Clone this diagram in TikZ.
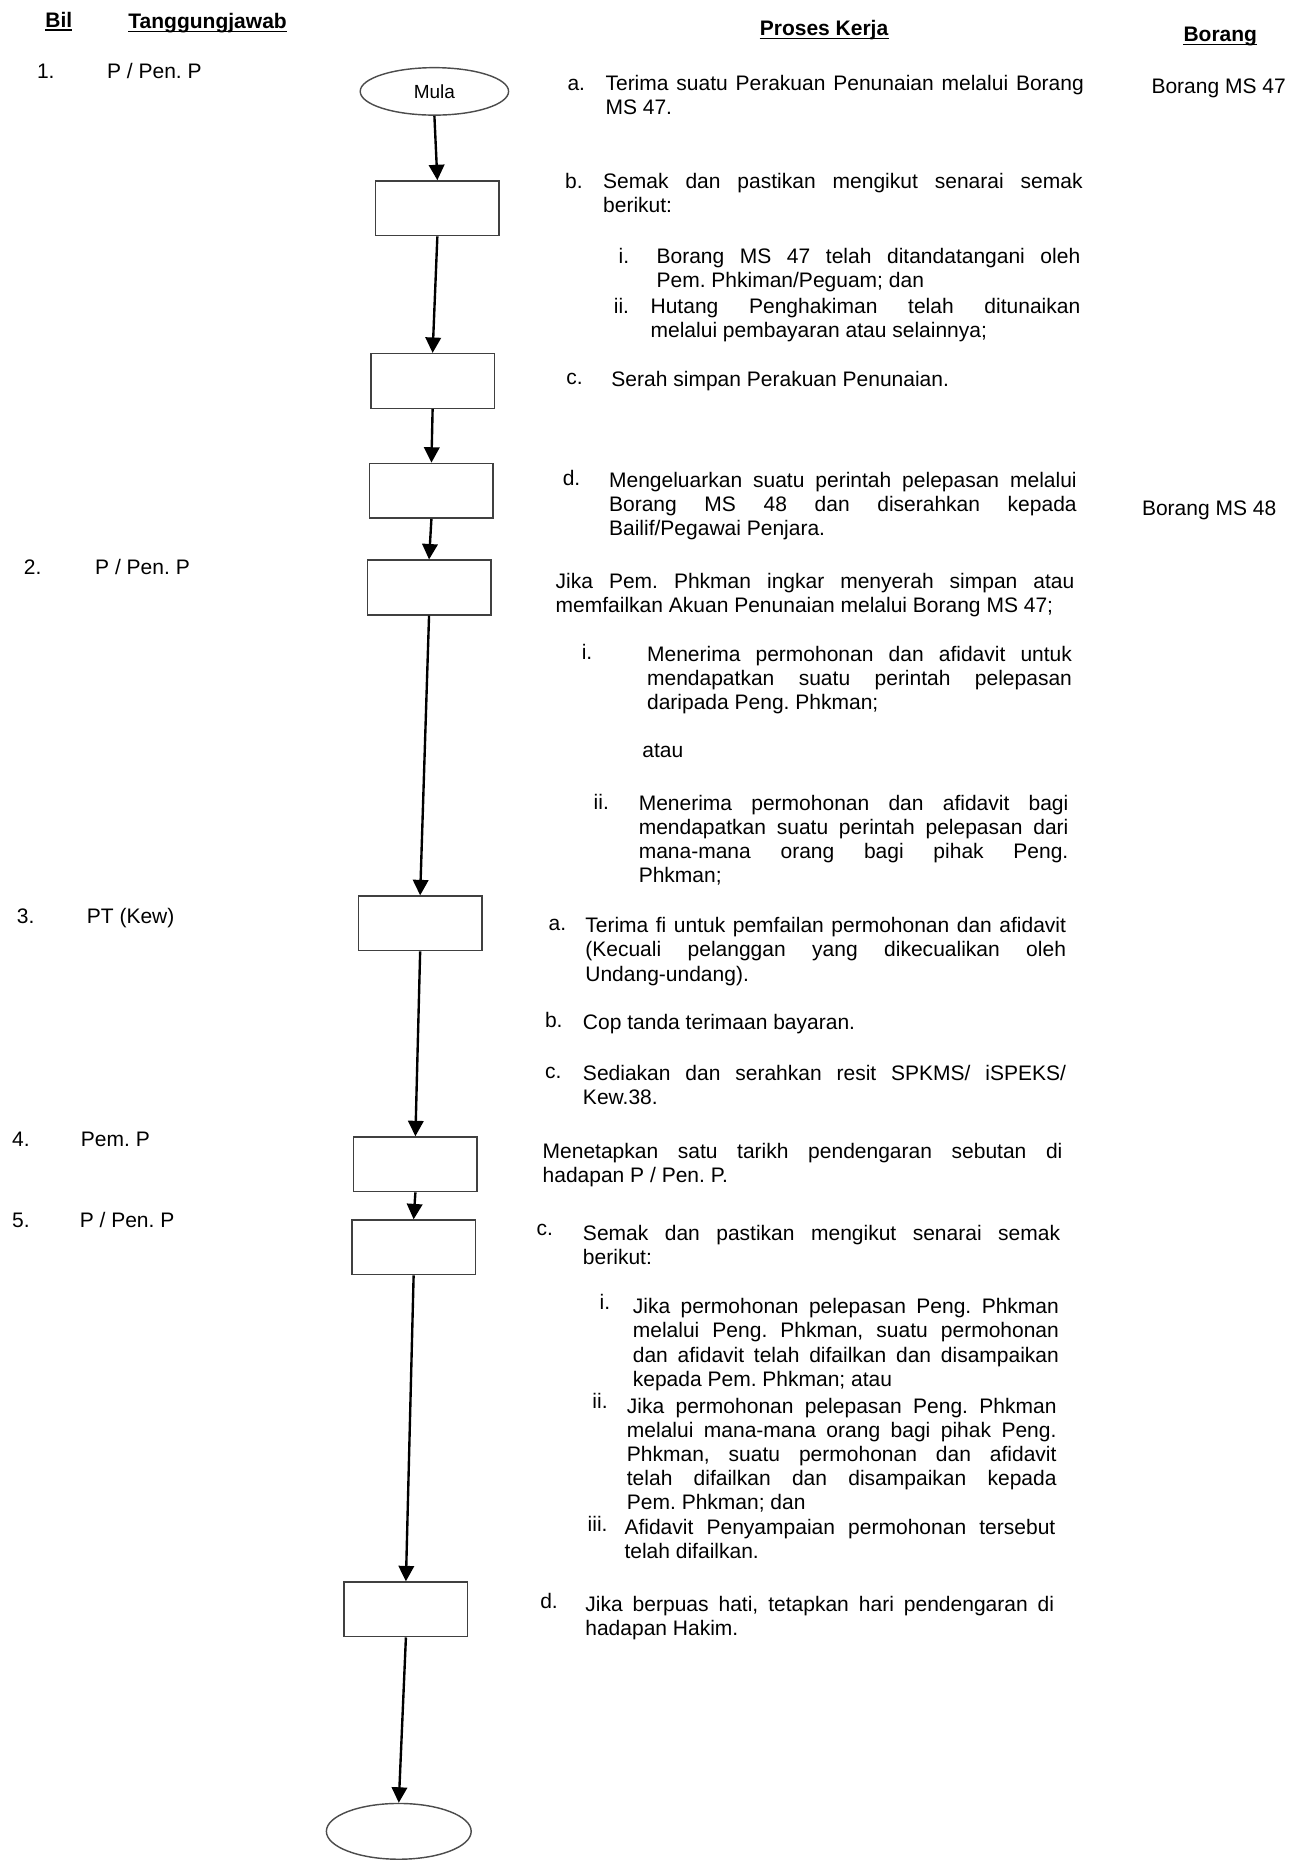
\documentclass[tikz,border=0pt]{standalone}
\usepackage{fontspec}
\setmainfont{Liberation Sans}
\usetikzlibrary{shapes.geometric,arrows.meta}
\frenchspacing
\begin{document}
\begin{tikzpicture}[x=1pt,y=-1pt,
	font=\fontsize{17.7}{20.3}\selectfont,
	box/.style={draw=black!75,line width=1.3pt,minimum width=104pt,minimum height=46pt,inner sep=0pt},
	term/.style={draw=black!70,line width=1.2pt,ellipse,inner sep=0pt},
	flow/.style={line width=2pt,-{Triangle[length=13pt,width=13pt]}},
	txt/.style={anchor=base west,inner sep=0pt},
	para/.style={txt,text width=#1,align=justify},
	hd/.style={txt,font=\fontsize{17.7}{20.3}\selectfont\bfseries}]
	\useasboundingbox (0,0) rectangle (1096,1568);
	\node[hd] (hbil) at (38,23) {Bil};
	\node[hd] (htj) at (108,24) {Tanggungjawab};
	\node[hd] (hpk) at (640,30) {Proses Kerja};
	\node[hd] (hbr) at (997,35) {Borang};
	\foreach \n in {hbil,htj,hpk,hbr}
		\draw[line width=1.3pt] ([yshift=-2.5pt]\n.base west) -- ([yshift=-2.5pt]\n.base east);
	\node[txt] (n1) at (31,66) {1.};
	\node[txt] (w1) at (90,66) {P / Pen. P};
	\node[txt] (n2) at (20,484) {2.};
	\node[txt] (w2) at (80,484) {P / Pen. P};
	\node[txt] (n3) at (14,778) {3.};
	\node[txt] (w3) at (73,778) {PT (Kew)};
	\node[txt] (n4) at (10,966) {4.};
	\node[txt] (w4) at (68,966) {Pem. P};
	\node[txt] (n5) at (10,1034) {5.};
	\node[txt] (w5) at (67,1034) {P / Pen. P};
	\node[term,minimum width=125pt,minimum height=40pt,font=\fontsize{16}{18}\selectfont] (mula) at (366,77) {Mula};
	\foreach \i/\x/\y in {1/368.5/175.5,2/364.5/321,3/363.5/413.5,4/361.5/495,
		5/354/778,6/350/981,7/348.5/1051,8/342/1356}
		\node[box] (b\i) at (\x,\y) {};
	\node[term,minimum width=122pt,minimum height=47pt] (tamat) at (336,1543) {};
	\draw[flow] (mula.south) -- (b1.north);
	\foreach \i [count=\j from 2] in {1,...,7}
		\draw[flow] (b\i.south) -- (b\j.north);
	\draw[flow] (b8.south) -- (tamat.north);
	\node[txt] (la1) at (478,76) {a.};
	\node[para=403pt] (pa1) at (510,76) {Terima suatu Perakuan Penunaian melalui Borang\linebreak MS 47.};
	\node[txt] (f47) at (970,79) {Borang MS 47};
	\node[txt] (lb1) at (476,159) {b.};
	\node[para=404pt] (pb1) at (508,159) {Semak dan pastikan mengikut senarai semak\linebreak berikut:};
	\node[txt] (lb1i) at (521,222) {i.};
	\node[para=357pt] (pb1i) at (553,222) {Borang MS 47 telah ditandatangani oleh\linebreak Pem. Phkiman/Peguam; dan};
	\node[txt] (lb1ii) at (517,264) {ii.};
	\node[para=362pt] (pb1ii) at (548,264) {Hutang Penghakiman telah ditunaikan\linebreak melalui pembayaran atau selainnya;};
	\node[txt] (lc1) at (477,324) {c.};
	\node[txt] (pc1) at (515,326) {Serah simpan Perakuan Penunaian.};
	\node[txt] (ld1) at (474,409) {d.};
	\node[para=394pt] (pd1) at (513,411) {Mengeluarkan suatu perintah pelepasan melalui\linebreak Borang MS 48 dan diserahkan kepada\linebreak Bailif/Pegawai Penjara.};
	\node[txt] (f48) at (962,434) {Borang MS 48};
	\node[para=437pt] (p2) at (468,496) {Jika Pem. Phkman ingkar menyerah simpan atau\linebreak memfailkan Akuan Penunaian melalui Borang MS 47;};
	\node[txt] (l2i) at (490,556) {i.};
	\node[para=358pt] (p2i) at (545,557) {Menerima permohonan dan afidavit untuk\linebreak mendapatkan suatu perintah pelepasan\linebreak daripada Peng. Phkman;};
	\node[txt] (atau) at (541,638) {atau};
	\node[txt] (l2ii) at (500,682) {ii.};
	\node[para=362pt] (p2ii) at (538,683) {Menerima permohonan dan afidavit bagi\linebreak mendapatkan suatu perintah pelepasan dari\linebreak mana-mana orang bagi pihak Peng.\linebreak Phkman;};
	\node[txt] (la3) at (462,784) {a.};
	\node[para=405pt] (pa3) at (493,786) {Terima fi untuk pemfailan permohonan dan afidavit\linebreak (Kecuali pelanggan yang dikecualikan oleh\linebreak Undang-undang).};
	\node[txt] (lb3) at (459,866) {b.};
	\node[txt] (pb3) at (491,867) {Cop tanda terimaan bayaran.};
	\node[txt] (lc3) at (459,909) {c.};
	\node[para=407pt] (pc3) at (491,910) {Sediakan dan serahkan resit SPKMS/ iSPEKS/\linebreak Kew.38.};
	\node[para=438pt] (p4) at (457,976) {Menetapkan satu tarikh pendengaran sebutan di\linebreak hadapan P / Pen. P.};
	\node[txt] (lc5) at (452,1041) {c.};
	\node[para=402pt] (pc5) at (491,1045) {Semak dan pastikan mengikut senarai semak\linebreak berikut:};
	\node[txt] (lc5i) at (505,1103) {i.};
	\node[para=359pt] (pc5i) at (533,1107) {Jika permohonan pelepasan Peng. Phkman\linebreak melalui Peng. Phkman, suatu permohonan\linebreak dan afidavit telah difailkan dan disampaikan\linebreak kepada Pem. Phkman; atau};
	\node[txt] (lc5ii) at (499,1187) {ii.};
	\node[para=362pt] (pc5ii) at (528,1191) {Jika permohonan pelepasan Peng. Phkman\linebreak melalui mana-mana orang bagi pihak Peng.\linebreak Phkman, suatu permohonan dan afidavit\linebreak telah difailkan dan disampaikan kepada\linebreak Pem. Phkman; dan};
	\node[txt] (lc5iii) at (495,1290) {iii.};
	\node[para=363pt] (pc5iii) at (526,1293) {Afidavit Penyampaian permohonan tersebut\linebreak telah difailkan.};
	\node[txt] (ld5) at (455,1355) {d.};
	\node[para=395pt] (pd5) at (493,1358) {Jika berpuas hati, tetapkan hari pendengaran di\linebreak hadapan Hakim.};
\end{tikzpicture}
\end{document}
